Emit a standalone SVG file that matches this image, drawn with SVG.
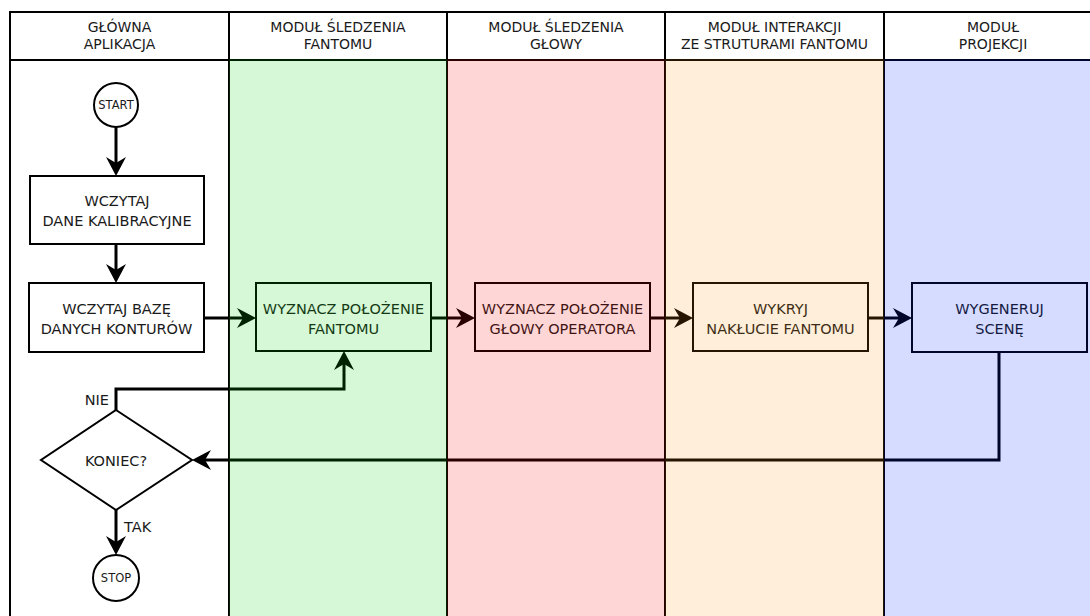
<svg xmlns="http://www.w3.org/2000/svg" width="1090" height="616" viewBox="0 0 1090 616">
<style>
.ln{stroke:#000;stroke-width:2;fill:none}
.box{fill:#fff;stroke:#000;stroke-width:2}
.t{font-family:'DejaVu Sans',Verdana,sans-serif;font-size:14.5px;text-anchor:middle;fill:#1a1a1a}
.h{font-family:'DejaVu Sans',Verdana,sans-serif;font-size:14px;text-anchor:middle;fill:#1a1a1a}
.s{font-family:'DejaVu Sans',Verdana,sans-serif;font-size:11.5px;text-anchor:middle;fill:#1a1a1a}
.c{fill:none;stroke:#000;stroke-width:3;marker-end:url(#arr)}
.ov{stroke:none}
</style>
<defs>
<marker id="arr" markerUnits="userSpaceOnUse" viewBox="-1 -11 21 22" markerWidth="21" markerHeight="22" refX="6" refY="0" orient="auto">
<path d="M19,0 L0,-10 L6,0 L0,10 Z" fill="#000"/>
</marker>
</defs>
<rect x="0" y="0" width="1090" height="616" fill="#fff"/>
<g id="lanes">
<path class="ln" d="M10,616 V12 H1100 M10,60 H1100 M229,12 V616 M447,12 V616 M665,12 V616 M884,12 V616"/>
<text class="h" x="119.5" y="32">GŁÓWNA</text>
<text class="h" x="119.5" y="49">APLIKACJA</text>
<text class="h" x="338" y="32">MODUŁ ŚLEDZENIA</text>
<text class="h" x="338" y="49">FANTOMU</text>
<text class="h" x="556" y="32">MODUŁ ŚLEDZENIA</text>
<text class="h" x="556" y="49">GŁOWY</text>
<text class="h" x="774.5" y="32">MODUŁ INTERAKCJI</text>
<text class="h" x="774.5" y="49">ZE STRUTURAMI FANTOMU</text>
<text class="h" x="993" y="32">MODUŁ</text>
<text class="h" x="993" y="49">PROJEKCJI</text>
</g>
<g id="start">
<circle class="box" cx="116" cy="105" r="22"/>
<text class="s" x="116" y="109">START</text>
</g>
<g id="wczytaj-kalibracja">
<rect class="box" x="30" y="176" width="174" height="68"/>
<text class="t" x="117" y="206">WCZYTAJ</text>
<text class="t" x="117" y="226">DANE KALIBRACYJNE</text>
</g>
<g id="wczytaj-baze">
<rect class="box" x="29" y="283" width="175" height="69"/>
<text class="t" x="116.5" y="314">WCZYTAJ BAZĘ</text>
<text class="t" x="116.5" y="334">DANYCH KONTURÓW</text>
</g>
<g id="polozenie-fantomu">
<rect class="box" x="256" y="283" width="175" height="68"/>
<text class="t" x="343.5" y="314">WYZNACZ POŁOŻENIE</text>
<text class="t" x="343.5" y="334">FANTOMU</text>
</g>
<g id="polozenie-glowy">
<rect class="box" x="475" y="283" width="175" height="68"/>
<text class="t" x="562.5" y="314">WYZNACZ POŁOŻENIE</text>
<text class="t" x="562.5" y="334">GŁOWY OPERATORA</text>
</g>
<g id="naklucie">
<rect class="box" x="693" y="283" width="175" height="68"/>
<text class="t" x="780.5" y="314">WYKRYJ</text>
<text class="t" x="780.5" y="334">NAKŁUCIE FANTOMU</text>
</g>
<g id="scena">
<rect class="box" x="912" y="283" width="175" height="69"/>
<text class="t" x="999.5" y="314">WYGENERUJ</text>
<text class="t" x="999.5" y="334">SCENĘ</text>
</g>
<g id="koniec">
<polygon class="box" points="116,410 192,460 116,510 41,460"/>
<text class="t" x="116" y="466">KONIEC?</text>
</g>
<g id="stop">
<circle class="box" cx="116" cy="578" r="23"/>
<text class="s" x="116" y="582">STOP</text>
</g>
<g id="connectors">
<path class="c" d="M116,127 V163"/>
<path class="c" d="M116,244 V270"/>
<path class="c" d="M204,318 H243"/>
<path class="c" d="M431,318 H462"/>
<path class="c" d="M650,318 H680"/>
<path class="c" d="M868,318 H899"/>
<path class="c" d="M999,352 V460 H205"/>
<path class="c" d="M116,410 V389 H344 V364"/>
<path class="c" d="M116,510 V542"/>
<text class="t" x="109" y="405" style="text-anchor:end">NIE</text>
<text class="t" x="124" y="532" style="text-anchor:start">TAK</text>
</g>
<g id="lane-fills">
<rect class="ov" x="229" y="59" width="218" height="557" fill="#00d200" fill-opacity="0.16"/>
<rect class="ov" x="447" y="59" width="218" height="557" fill="#ff0000" fill-opacity="0.16"/>
<rect class="ov" x="665" y="59" width="219" height="557" fill="#ff8a00" fill-opacity="0.15"/>
<rect class="ov" x="884" y="59" width="216" height="557" fill="#0024ff" fill-opacity="0.16"/>
</g>
</svg>
